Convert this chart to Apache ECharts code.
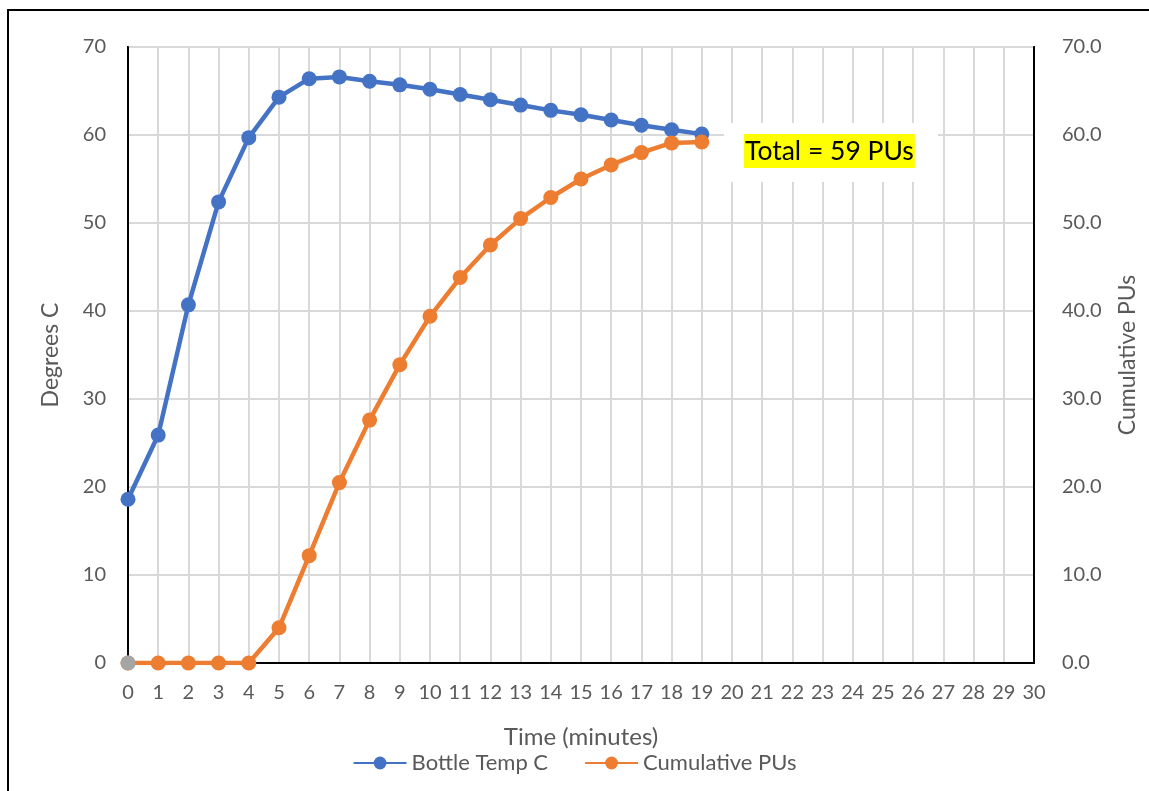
<!DOCTYPE html>
<html>
<head>
<meta charset="utf-8">
<script src="https://cdn.jsdelivr.net/npm/echarts@6/dist/echarts.min.js"></script>
<style>
  html, body { margin: 0; padding: 0; background: #fff; }
  #chart { width: 1149px; height: 791px; }
</style>
</head>
<body>
<div id="chart"></div>
<script>
// minutes 0..30 on the time axis
var minutes = [];
for (var m = 0; m <= 30; m++) minutes.push(String(m));

var bottleTemp = [18.6, 25.9, 40.7, 52.4, 59.7, 64.3, 66.4, 66.6, 66.1, 65.7,
                  65.2, 64.6, 64.0, 63.4, 62.8, 62.3, 61.7, 61.1, 60.6, 60.1];
var cumulativePUs = [0, 0, 0, 0, 0, 4.0, 12.2, 20.5, 27.6, 33.9,
                     39.4, 43.8, 47.5, 50.5, 52.9, 55.0, 56.6, 58.0, 59.1, 59.2];
var startPoint = [0];
var totalLabel = 'Total = 59 PUs';

var font = 'Lato, "Open Sans", sans-serif';
var grey = '#595959';

var myChart = echarts.init(document.getElementById('chart'));
myChart.setOption({
    animation: false,
    textStyle: { fontFamily: font },
    grid: {
        left: 128, right: 115, top: 47, bottom: 128,
        outerBoundsMode: 'none',
        show: true, borderColor: '#000', borderWidth: 2
    },
    legend: {
        top: 747,
        left: 'center',
        itemWidth: 53,
        itemHeight: 16,
        itemGap: 36,
        data: ['Bottle Temp C', 'Cumulative PUs'],
        textStyle: { fontSize: 22, color: grey, fontFamily: font }
    },
    xAxis: {
        type: 'category',
        data: minutes,
        boundaryGap: false,
        name: 'Time (minutes)',
        nameLocation: 'middle',
        nameGap: 62,
        nameTextStyle: { fontSize: 24, color: grey },
        axisLine: { lineStyle: { color: '#000', width: 2 } },
        axisTick: { show: false },
        axisLabel: { interval: 0, margin: 20, fontSize: 20, color: grey },
        splitLine: { show: true, interval: 0, lineStyle: { color: '#d9d9d9', width: 2 } }
    },
    yAxis: [{
        type: 'value',
        min: 0, max: 70, interval: 10,
        name: 'Degrees C',
        nameLocation: 'middle',
        nameRotate: 90,
        nameGap: 66,
        nameTextStyle: { fontSize: 23, color: grey },
        axisLine: { show: true, lineStyle: { color: '#000', width: 2 } },
        axisLabel: { margin: 22, fontSize: 20, color: grey },
        splitLine: { lineStyle: { color: '#d9d9d9', width: 2 } }
    }, {
        type: 'value',
        min: 0, max: 70, interval: 10,
        name: 'Cumulative PUs',
        nameLocation: 'middle',
        nameRotate: 90,
        nameGap: 82,
        nameTextStyle: { fontSize: 23, color: grey },
        axisLine: { show: true, lineStyle: { color: '#000', width: 2 } },
        axisLabel: {
            margin: 28, fontSize: 20, color: grey,
            formatter: function (v) { return v.toFixed(1); }
        },
        splitLine: { show: false }
    }],
    series: [{
        name: 'Bottle Temp C',
        type: 'line',
        data: bottleTemp,
        yAxisIndex: 0,
        symbol: 'circle',
        symbolSize: 15,
        color: '#4472c4',
        lineStyle: { width: 4.5 }
    }, {
        name: 'Cumulative PUs',
        type: 'line',
        data: cumulativePUs,
        yAxisIndex: 1,
        symbol: 'circle',
        symbolSize: 15,
        color: '#ed7d31',
        lineStyle: { width: 4.5 }
    }, {
        name: 'start',
        type: 'line',
        data: startPoint,
        yAxisIndex: 0,
        symbol: 'circle',
        symbolSize: 15,
        color: '#a5a5a5',
        z: 5
    }],
    graphic: [{
        type: 'rect',
        shape: { x: 8, y: 10, width: 1300, height: 900 },
        style: { fill: 'none', stroke: '#000', lineWidth: 2 },
        silent: true
    }, {
        type: 'rect',
        shape: { x: 724, y: 123, width: 214, height: 59 },
        style: { fill: '#fff' },
        z: 10
    }, {
        type: 'text',
        left: 744,
        top: 134,
        z: 11,
        style: {
            text: totalLabel,
            font: '26.5px ' + font,
            fill: '#000',
            backgroundColor: '#ffff00',
            padding: [4, 1, 3, 1]
        }
    }]
});
</script>
</body>
</html>
